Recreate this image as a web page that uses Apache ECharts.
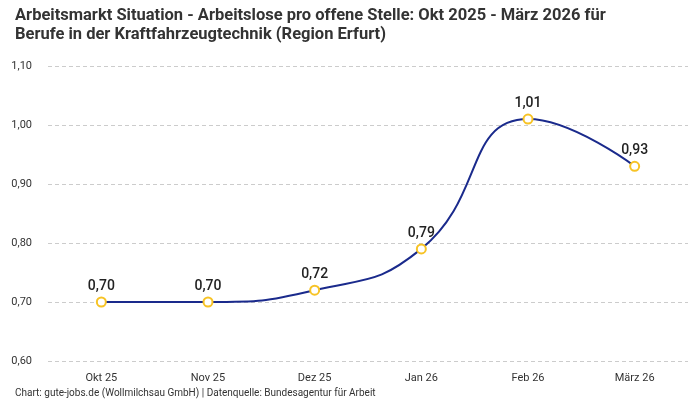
<!DOCTYPE html>
<html>
<head>
<meta charset="utf-8">
<script src="https://cdn.jsdelivr.net/npm/echarts@6/dist/echarts.min.js"></script>
<style>
  html,body{margin:0;padding:0;background:#fff;}
  #chart{width:700px;height:400px;}
</style>
</head>
<body>
<div id="chart"></div>
<script>
// Daten
var monate = ['Okt 25', 'Nov 25', 'Dez 25', 'Jan 26', 'Feb 26', 'März 26'];
var werte = [0.70, 0.70, 0.72, 0.79, 1.01, 0.93];
var yMin = 0.60, yMax = 1.10, yStep = 0.10;

function komma(v) {
  return v.toFixed(2).replace('.', ',');
}

var chart = echarts.init(document.getElementById('chart'));
var option = {
  backgroundColor: '#fff',
  textStyle: { fontFamily: 'Roboto, sans-serif' },
  title: [{
    text: 'Arbeitsmarkt Situation - Arbeitslose pro offene Stelle: Okt 2025 - März 2026 für\nBerufe in der Kraftfahrzeugtechnik (Region Erfurt)',
    left: 10,
    top: 1,
    textStyle: { fontSize: 16.5, fontWeight: 'bold', color: '#333', lineHeight: 19, fontFamily: 'Roboto' }
  }, {
    text: 'Chart: gute-jobs.de (Wollmilchsau GmbH) | Datenquelle: Bundesagentur für Arbeit',
    left: 10,
    top: 383,
    textStyle: { fontSize: 10, fontWeight: 'normal', color: '#333', fontFamily: 'Roboto' }
  }],
  grid: { left: 48, right: 12, top: 66, bottom: 39 },
  xAxis: {
    type: 'category',
    data: monate,
    axisLine: { show: false },
    axisTick: { show: false },
    axisLabel: { color: '#333', fontSize: 11, margin: 12 }
  },
  yAxis: {
    type: 'value',
    min: yMin,
    max: yMax,
    interval: yStep,
    axisLabel: {
      color: '#333', fontSize: 11, margin: 16,
      formatter: function (v) { return komma(v); }
    },
    splitLine: { lineStyle: { type: [4, 3], color: '#ccc' } }
  },
  series: [{
    type: 'line',
    data: werte,
    smooth: true,
    symbol: 'circle',
    symbolSize: 9,
    lineStyle: { color: '#1a2a8c', width: 2 },
    itemStyle: { color: '#fff', borderColor: '#f7c325', borderWidth: 2 },
    label: {
      show: true,
      position: 'top',
      distance: 3,
      color: '#222',
      fontSize: 14,
      fontWeight: 500,
      formatter: function (p) { return komma(p.value); }
    }
  }]
};
chart.setOption(option);
</script>
</body>
</html>
